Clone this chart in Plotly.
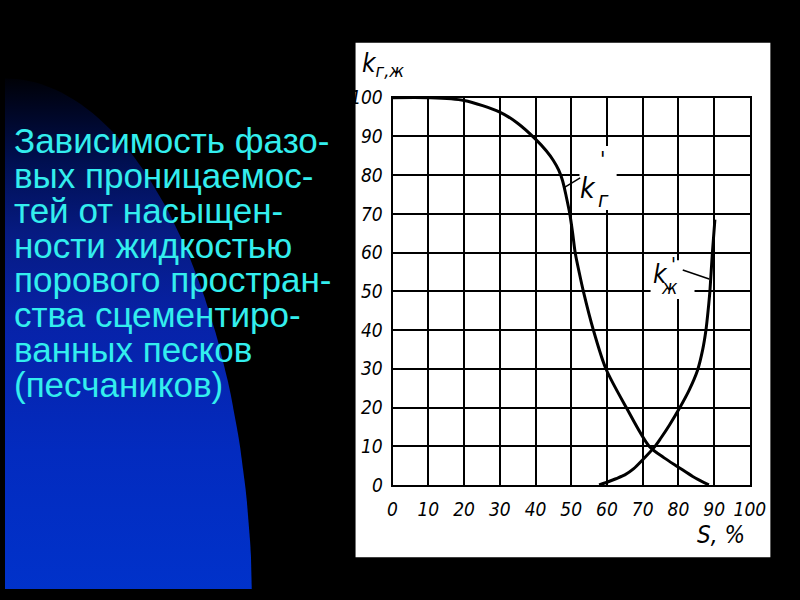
import numpy as np
import plotly.graph_objects as go

# ---- data ----
s_gas = [0, 10, 20, 30, 35, 40, 43, 45, 46.5, 47.6, 48.6, 49.6, 50.4, 51.1, 52.2, 53.4,
         56.2, 59.7, 65.4, 71.8, 76, 80, 84, 88.5]
k_gas = [100, 100, 99.3, 96.3, 93.4, 89.3, 86.3, 83.8, 81.3, 78.5, 74.5, 70, 65, 60, 55, 50,
         40, 30, 20, 10, 7, 4.6, 2.2, 0]

s_liq = [57.8, 60, 62.5, 65, 67.5, 70, 73.2, 75, 77.5, 80.4, 83, 85.3, 86.8, 87.7, 88.3, 88.8, 89.5, 90.2]
k_liq = [0, 0.7, 1.6, 2.6, 4.2, 6.5, 9.7, 12, 15.5, 20, 24.5, 29.5, 35, 40, 45, 50, 60, 68.5]

tick_vals = [0, 10, 20, 30, 40, 50, 60, 70, 80, 90, 100]
tick_text = ["0", "10", "20", "30", "40", "50", "60", "70", "80", "90", "100"]

caption_lines = [
    "Зависимость фазо-",
    "вых проницаемос-",
    "тей от насыщен-",
    "ности жидкостью",
    "порового простран-",
    "ства сцементиро-",
    "ванных песков",
    "(песчаников)",
]

W, H = 800, 600
def px(x):
    return x / W
def py(y):
    return 1 - y / H

DRAW_FONT = "Liberation Sans Narrow, DejaVu Sans Condensed, Arial Narrow, sans-serif"
CAP_FONT = "Liberation Sans, Arial, sans-serif"
CYAN = "#33eeee"

fig = go.Figure()

# ---- decorative blue ellipse (full-page overlay axes in pixel units) ----
t = np.linspace(0, 2 * np.pi, 240)
cx, cy, a, b = 0, 625, 254, 555
fig.add_trace(go.Scatter(
    x=cx + a * np.cos(t), y=cy + b * np.sin(t),
    xaxis="x2", yaxis="y2", mode="lines",
    line=dict(width=0, color="rgba(0,0,0,0)"),
    fill="toself",
    fillgradient=dict(
        type="vertical",
        colorscale=[[0, "#000000"], [0.074, "#000624"], [0.167, "#000f50"],
                    [0.296, "#061a80"], [0.463, "#0722a8"], [0.704, "#032bbf"],
                    [1, "#0033cc"]],
        start=60, stop=600,
    ),
    hoverinfo="skip", showlegend=False,
))

# ---- curves ----
fig.add_trace(go.Scatter(x=s_gas, y=k_gas, mode="lines",
                         line=dict(color="black", width=3, shape="spline", smoothing=0.8),
                         hoverinfo="skip", showlegend=False, cliponaxis=False))
fig.add_trace(go.Scatter(x=s_liq, y=k_liq, mode="lines",
                         line=dict(color="black", width=3, shape="spline", smoothing=0.8),
                         hoverinfo="skip", showlegend=False, cliponaxis=False))

shapes = [
    # white panel
    dict(type="rect", xref="paper", yref="paper", x0=px(360), x1=px(786), y0=py(567), y1=py(33),
         fillcolor="white", line=dict(width=0), layer="below"),
    # label clearances in the grid
    dict(type="rect", xref="x", yref="y", x0=52.3, x1=62.7, y0=71, y1=87.5,
         fillcolor="white", line=dict(width=0), layer="above"),
    dict(type="rect", xref="x", yref="y", x0=72.2, x1=84.5, y0=48, y1=58,
         fillcolor="white", line=dict(width=0), layer="above"),
    # leader lines
    dict(type="line", xref="x", yref="y", x0=48.0, y0=76.8, x1=52.5, y1=79.3,
         line=dict(color="black", width=1.5), layer="above"),
    dict(type="line", xref="x", yref="y", x0=81.2, y0=55.5, x1=88.6, y1=53.2,
         line=dict(color="black", width=1.5), layer="above"),
]

annotations = []
base0, step = 147, 36.1
for i, line in enumerate(caption_lines):
    annotations.append(dict(
        text=line, xref="paper", yref="paper", x=px(7), y=py(base0 + i * step - 12.2),
        xanchor="left", yanchor="middle", showarrow=False,
        font=dict(family=CAP_FONT, size=35, color=CYAN)))

def lab(text, x, y, size, xref="x", yref="y"):
    annotations.append(dict(text=text, xref=xref, yref=yref, x=x, y=y,
                            xanchor="center", yanchor="middle", showarrow=False,
                            font=dict(family=DRAW_FONT, size=size, color="black", style="italic")))

# curve labels
lab("<i>k</i>", 54.8, 76.6, 28)
lab("'", 58.8, 84.0, 22)
lab("<i>г</i>", 59.0, 73.8, 22)
lab("<i>k</i>", 74.9, 54.5, 26)
lab("'", 78.6, 57.0, 20)
lab("<i>ж</i>", 77.6, 51.0, 19)
# axis titles
annotations.append(dict(text="<i>k<sub>г,ж</sub></i>", xref="paper", yref="paper", x=px(388), y=py(56),
                        xanchor="center", yanchor="middle", showarrow=False,
                        font=dict(family=DRAW_FONT, size=26, color="black", style="italic")))
annotations.append(dict(text="<i>S, %</i>", xref="paper", yref="paper", x=px(735), y=py(544),
                        xanchor="center", yanchor="middle", showarrow=False,
                        font=dict(family=DRAW_FONT, size=24, color="black", style="italic")))

tickfont = dict(family=DRAW_FONT, size=19, color="black", style="italic")
axis_common = dict(range=[0, 100], tickmode="array", tickvals=tick_vals,
                   ticktext=["<i>" + s + "</i>" for s in tick_text],
                   showgrid=True, gridcolor="black", gridwidth=2, zeroline=False,
                   showline=True, mirror=True, linecolor="black", linewidth=2,
                   ticks="", tickfont=tickfont, fixedrange=True)

fig.update_layout(
    width=W, height=H, margin=dict(l=0, r=0, t=0, b=0),
    paper_bgcolor="black", plot_bgcolor="rgba(0,0,0,0)",
    xaxis=dict(domain=[px(398), px(765)], anchor="y", ticklabelstandoff=6, **axis_common),
    yaxis=dict(domain=[py(492), py(90)], anchor="x", ticklabelstandoff=4, **axis_common),
    xaxis2=dict(domain=[0, 1], range=[0, 800], visible=False, anchor="y2", fixedrange=True),
    yaxis2=dict(domain=[0, 1], range=[600, 0], visible=False, anchor="x2", fixedrange=True),
    shapes=shapes, annotations=annotations, showlegend=False,
)

fig.write_html("out.html", config={"displayModeBar": False},
               post_script="document.body.style.margin='0';document.body.style.overflow='hidden';")
